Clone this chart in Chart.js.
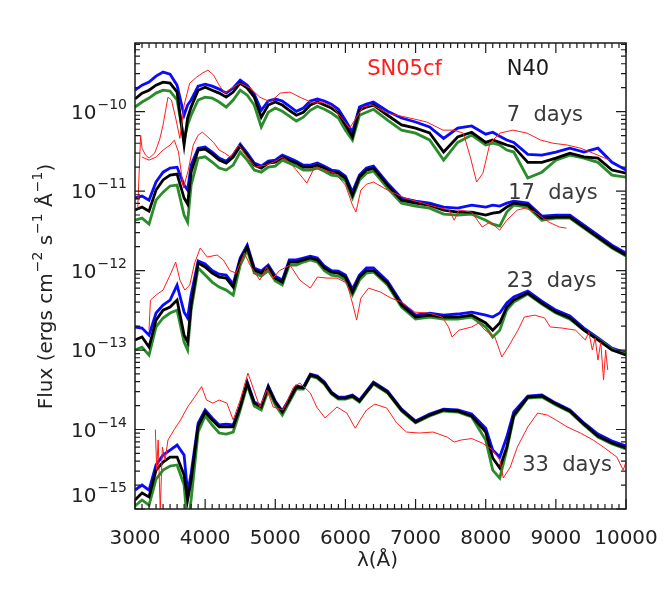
<!DOCTYPE html>
<html>
<head>
<meta charset="utf-8">
<script src="https://cdn.jsdelivr.net/npm/chart.js@4.4.1/dist/chart.umd.min.js"></script>
<style>
  html, body { margin: 0; padding: 0; background: #fff; }
  #wrap { width: 667px; height: 597px; }
</style>
</head>
<body>
<div id="wrap"><canvas id="grafico" width="667" height="597"></canvas></div>
<script>
// DATOS: longitud de onda (Angstrom) de los modelos N40
const ondaModelo = [3000,3100,3200,3300,3400,3500,3600,3700,3750,3800,3900,4000,4100,4200,4300,4400,4500,4600,4700,4800,4900,5000,5100,5200,5300,5400,5500,5600,5700,5800,5900,6000,6100,6200,6300,6400,6600,6800,7000,7200,7400,7600,7800,8000,8100,8200,8300,8400,8600,8800,9000,9200,9400,9600,9800,10000];

// 7 dias
const azul7 = [1.86e-10,2.15e-10,2.35e-10,2.8e-10,3.14e-10,2.96e-10,2.15e-10,9.0e-11,1.21e-10,1.4e-10,2.09e-10,2.22e-10,2.09e-10,1.92e-10,1.71e-10,1.98e-10,2.49e-10,2.15e-10,1.66e-10,1.04e-10,1.36e-10,1.44e-10,1.36e-10,1.17e-10,1.01e-10,1.11e-10,1.36e-10,1.44e-10,1.36e-10,1.24e-10,1.07e-10,7.8e-11,5.5e-11,1.14e-10,1.24e-10,1.32e-10,1.01e-10,8.3e-11,7.4e-11,6.4e-11,4.6e-11,6.2e-11,6.6e-11,5.2e-11,5.5e-11,4.9e-11,4.4e-11,4.1e-11,2.9e-11,2.84e-11,3.1e-11,3.47e-11,3.1e-11,3.47e-11,2.3e-11,1.84e-11];
const negro7 = [1.44e-10,1.71e-10,1.86e-10,2.15e-10,2.35e-10,2.28e-10,1.76e-10,3.8e-11,8.3e-11,1.14e-10,1.86e-10,2.03e-10,1.86e-10,1.71e-10,1.52e-10,1.76e-10,2.28e-10,1.98e-10,1.52e-10,8.5e-11,1.21e-10,1.32e-10,1.21e-10,1.04e-10,9.0e-11,9.8e-11,1.21e-10,1.32e-10,1.21e-10,1.11e-10,9.6e-11,6.8e-11,4.8e-11,1.04e-10,1.14e-10,1.21e-10,9.0e-11,6.8e-11,6.2e-11,5.4e-11,3.1e-11,4.8e-11,5.5e-11,4.1e-11,4.4e-11,4.1e-11,3.8e-11,3.6e-11,2.3e-11,2.3e-11,2.6e-11,3.0e-11,2.7e-11,2.6e-11,1.84e-11,1.68e-11];
const verde7 = [1.14e-10,1.32e-10,1.48e-10,1.71e-10,1.86e-10,1.81e-10,1.4e-10,4.4e-11,6.8e-11,9.0e-11,1.4e-10,1.52e-10,1.48e-10,1.32e-10,1.14e-10,1.4e-10,1.86e-10,1.61e-10,1.21e-10,6.4e-11,9.8e-11,1.11e-10,1.01e-10,8.8e-11,7.6e-11,8.5e-11,1.04e-10,1.17e-10,1.07e-10,9.6e-11,8.3e-11,5.85e-11,4.4e-11,9.0e-11,9.8e-11,1.07e-10,7.8e-11,5.85e-11,5.36e-11,4.4e-11,2.45e-11,4.1e-11,5.06e-11,3.8e-11,4.0e-11,3.8e-11,3.28e-11,3.1e-11,1.46e-11,1.73e-11,2.45e-11,2.84e-11,2.6e-11,2.3e-11,1.59e-11,1.5e-11];

// 17 dias
const azul17 = [8.17e-12,8.65e-12,7.7e-12,1.3e-11,1.73e-11,1.95e-11,2.0e-11,1.19e-11,1.03e-11,2.12e-11,3.47e-11,3.58e-11,3.1e-11,2.6e-11,2.38e-11,2.84e-11,3.9e-11,3.0e-11,2.25e-11,2.06e-11,2.38e-11,2.45e-11,2.84e-11,2.6e-11,2.38e-11,2.12e-11,2.12e-11,2.25e-11,2.06e-11,1.84e-11,1.78e-11,1.54e-11,9.7e-12,1.59e-11,1.95e-11,2.06e-11,1.26e-11,8.17e-12,7.48e-12,7.06e-12,6.3e-12,6.1e-12,6.66e-12,6.3e-12,6.66e-12,6.47e-12,7.06e-12,7.48e-12,7.06e-12,4.85e-12,4.99e-12,4.99e-12,3.73e-12,2.8e-12,2.09e-12,1.66e-12];
const negro17 = [5.77e-12,6.3e-12,5.6e-12,1.03e-11,1.38e-11,1.59e-11,1.64e-11,8.17e-12,6.86e-12,1.73e-11,3.28e-11,3.37e-11,2.92e-11,2.45e-11,2.25e-11,2.68e-11,3.68e-11,2.84e-11,2.12e-11,1.95e-11,2.25e-11,2.32e-11,2.68e-11,2.45e-11,2.25e-11,2.0e-11,2.0e-11,2.12e-11,1.95e-11,1.73e-11,1.68e-11,1.46e-11,8.9e-12,1.5e-11,1.84e-11,1.95e-11,1.19e-11,7.7e-12,7.06e-12,6.66e-12,5.77e-12,5.44e-12,5.44e-12,4.99e-12,5.29e-12,5.44e-12,6.3e-12,7.06e-12,6.66e-12,4.57e-12,4.7e-12,4.7e-12,3.53e-12,2.64e-12,1.98e-12,1.57e-12];
const verde17 = [4.3e-12,4.57e-12,3.84e-12,7.7e-12,9.7e-12,1.16e-11,1.19e-11,4.99e-12,4.07e-12,1.19e-11,2.6e-11,2.7e-11,2.32e-11,1.95e-11,1.84e-11,2.12e-11,3.1e-11,2.45e-11,1.84e-11,1.73e-11,2.0e-11,2.06e-11,2.45e-11,2.25e-11,2.06e-11,1.84e-11,1.84e-11,1.95e-11,1.78e-11,1.59e-11,1.54e-11,1.34e-11,8.17e-12,1.38e-11,1.68e-11,1.78e-11,1.09e-11,7.06e-12,6.47e-12,6.1e-12,5.13e-12,4.99e-12,5.13e-12,4.3e-12,3.84e-12,3.63e-12,5.44e-12,6.66e-12,6.3e-12,4.3e-12,4.57e-12,4.57e-12,3.42e-12,2.56e-12,1.92e-12,1.52e-12];

// 23 dias
const azul23 = [1.95e-13,1.89e-13,1.54e-13,2.92e-13,3.68e-13,4.25e-13,6.57e-13,3.0e-13,2.53e-13,4.92e-13,1.32e-12,1.21e-12,1.0e-12,9.0e-13,8.77e-13,6.76e-13,1.44e-12,2.09e-12,1.08e-12,9.85e-13,1.17e-12,8.52e-13,7.59e-13,1.36e-12,1.36e-12,1.44e-12,1.52e-12,1.44e-12,1.14e-12,1.0e-12,9.85e-13,8.77e-13,5.85e-13,8.77e-13,1.08e-12,1.08e-12,7.38e-13,3.9e-13,2.75e-13,2.92e-13,2.75e-13,2.84e-13,3.0e-13,2.75e-13,2.6e-13,2.92e-13,3.9e-13,4.64e-13,5.52e-13,4.13e-13,3.18e-13,2.68e-13,1.89e-13,1.42e-13,1.06e-13,9.2e-14];
const negro23 = [1.34e-13,1.46e-13,1.09e-13,2.38e-13,3.18e-13,3.47e-13,4.25e-13,1.54e-13,1.26e-13,3.68e-13,1.24e-12,1.11e-12,9.3e-13,8.28e-13,8.04e-13,6.2e-13,1.36e-12,1.98e-12,1.01e-12,9.3e-13,1.11e-12,8.04e-13,7.16e-13,1.28e-12,1.28e-12,1.36e-12,1.44e-12,1.36e-12,1.08e-12,9.57e-13,9.3e-13,8.28e-13,5.36e-13,8.28e-13,1.0e-12,1.0e-12,6.96e-13,3.68e-13,2.6e-13,2.75e-13,2.6e-13,2.6e-13,2.75e-13,2.19e-13,1.78e-13,2.19e-13,3.47e-13,4.25e-13,5.21e-13,3.9e-13,3.0e-13,2.53e-13,1.78e-13,1.34e-13,1.0e-13,8.65e-14];
const verde23 = [1.0e-13,1.09e-13,8.65e-14,1.95e-13,2.53e-13,2.92e-13,3.18e-13,1.26e-13,1.0e-13,3.18e-13,1.08e-12,8.77e-13,7.16e-13,6.2e-13,5.68e-13,4.92e-13,1.17e-12,1.81e-12,9.3e-13,8.52e-13,1.0e-12,7.38e-13,6.57e-13,1.17e-12,1.17e-12,1.28e-12,1.36e-12,1.28e-12,1.0e-12,8.77e-13,8.52e-13,7.59e-13,4.92e-13,7.59e-13,9.3e-13,9.57e-13,6.57e-13,3.47e-13,2.45e-13,2.6e-13,2.45e-13,2.45e-13,2.6e-13,1.95e-13,1.46e-13,1.78e-13,3.18e-13,4.01e-13,5.06e-13,3.79e-13,2.92e-13,2.45e-13,1.78e-13,1.38e-13,1.03e-13,8.9e-14];

// 33 dias
const azul33 = [1.73e-15,2.0e-15,1.73e-15,3.58e-15,4.77e-15,5.52e-15,6.38e-15,4.77e-15,1.59e-15,2.8e-15,1.2e-14,1.76e-14,1.4e-14,1.14e-14,1.17e-14,1.14e-14,1.98e-14,3.96e-14,2.22e-14,1.98e-14,3.53e-14,2.28e-14,1.71e-14,2.42e-14,3.53e-14,3.42e-14,4.99e-14,4.7e-14,3.96e-14,2.96e-14,2.56e-14,2.56e-14,2.72e-14,2.35e-14,3.05e-14,3.96e-14,3.05e-14,1.81e-14,1.28e-14,1.57e-14,1.81e-14,1.76e-14,1.57e-14,1.04e-14,5.52e-15,4.5e-15,8.04e-15,1.66e-14,2.64e-14,2.72e-14,2.15e-14,1.76e-14,1.21e-14,8.77e-15,7.16e-15,6.2e-15];
const negro33 = [1.3e-15,1.59e-15,1.42e-15,3.09e-15,3.9e-15,4.5e-15,4.5e-15,2.68e-15,1.3e-15,2.3e-15,1.1e-14,1.66e-14,1.32e-14,1.08e-14,1.08e-14,1.08e-14,1.92e-14,3.84e-14,2.15e-14,1.92e-14,3.42e-14,2.22e-14,1.66e-14,2.35e-14,3.42e-14,3.33e-14,4.85e-14,4.57e-14,3.84e-14,2.88e-14,2.49e-14,2.49e-14,2.64e-14,2.28e-14,2.96e-14,3.84e-14,2.96e-14,1.76e-14,1.24e-14,1.52e-14,1.76e-14,1.71e-14,1.48e-14,9.3e-15,4.38e-15,3.28e-15,6.0e-15,1.52e-14,2.56e-14,2.64e-14,2.09e-14,1.71e-14,1.17e-14,8.28e-15,6.76e-15,5.85e-15];
const verde33 = [1.09e-15,1.3e-15,1.12e-15,2.38e-15,3.09e-15,3.47e-15,3.58e-15,2.0e-15,6.0e-16,1.3e-15,9.3e-15,1.48e-14,1.14e-14,9.03e-15,8.77e-15,9.3e-15,1.76e-14,3.63e-14,1.98e-14,1.76e-14,3.14e-14,2.03e-14,1.52e-14,2.22e-14,3.23e-14,3.23e-14,4.7e-14,4.44e-14,3.73e-14,2.8e-14,2.42e-14,2.42e-14,2.56e-14,2.22e-14,2.88e-14,3.73e-14,2.88e-14,1.71e-14,1.21e-14,1.48e-14,1.71e-14,1.66e-14,1.44e-14,7.38e-15,3.09e-15,2.45e-15,5.52e-15,1.44e-14,2.49e-14,2.56e-14,2.03e-14,1.66e-14,1.14e-14,8.04e-15,6.57e-15,5.68e-15];

// SN05cf observada
const ondaSN7 = [3040,3080,3100,3150,3200,3280,3350,3400,3470,3520,3580,3640,3700,3780,3880,3960,4040,4120,4200,4280,4380,4500,4640,4780,4930,5070,5210,5350,5540,5680,5820,5970,6060,6160,6250,6380,6590,6920,7160,7390,7540,7680,7780,7870,7960,8060,8200,8390,8590,8780,8960,9160,9350,9530,9700,9770];
const flujoSN7 = [6.3e-12,5.06e-11,3.47e-11,2.84e-11,2.6e-11,3.0e-11,4.4e-11,6.8e-11,1.52e-10,1.4e-10,8.3e-11,4.6e-11,1.2e-10,2.28e-10,2.72e-10,3.05e-10,3.33e-10,2.88e-10,2.15e-10,1.71e-10,1.98e-10,2.28e-10,1.98e-10,1.52e-10,1.32e-10,1.71e-10,1.76e-10,1.52e-10,1.28e-10,1.32e-10,1.14e-10,7.8e-11,6.2e-11,8.5e-11,1.14e-10,1.21e-10,9.6e-11,8.3e-11,7.4e-11,5.85e-11,5.85e-11,5.36e-11,2.7e-11,1.3e-11,1.68e-11,4.0e-11,5.36e-11,5.85e-11,5.36e-11,4.4e-11,4.0e-11,3.8e-11,3.47e-11,3.0e-11,2.6e-11,2.45e-11];
const ondaSN17 = [3100,3200,3300,3400,3500,3560,3620,3690,3760,3830,3900,3960,4040,4120,4200,4280,4360,4480,4580,4720,4860,4980,5100,5200,5300,5450,5560,5700,5850,6000,6100,6150,6220,6300,6400,6600,6850,7100,7300,7480,7550,7620,7800,7950,8060,8200,8300,8450,8560,8700,8900,9050,9150];
const flujoSN17 = [2.68e-11,2.45e-11,2.68e-11,3.28e-11,3.79e-11,4.38e-11,3.1e-11,1.09e-11,1.84e-11,3.79e-11,5.06e-11,5.52e-11,4.78e-11,4.1e-11,3.28e-11,3.0e-11,2.68e-11,3.79e-11,2.84e-11,2.0e-11,2.12e-11,2.32e-11,2.68e-11,2.32e-11,1.84e-11,1.26e-11,2.0e-11,1.84e-11,1.68e-11,1.19e-11,6.66e-12,5.44e-12,1.03e-11,1.22e-11,1.3e-11,1.03e-11,8.17e-12,7.06e-12,6.3e-12,5.77e-12,4.3e-12,5.77e-12,5.44e-12,3.53e-12,4.07e-12,3.23e-12,4.3e-12,5.77e-12,6.1e-12,5.44e-12,4.07e-12,3.53e-12,3.42e-12];
const ondaSN23 = [3200,3220,3300,3400,3500,3580,3640,3710,3780,3850,3930,4030,4170,4260,4350,4440,4560,4640,4780,4880,4970,5060,5210,5350,5500,5600,5740,5880,6020,6100,6160,6220,6330,6500,6650,6800,6990,7190,7380,7470,7520,7620,7800,7900,7990,8130,8230,8320,8460,8550,8700,8840,8920,9090,9280,9420,9470,9520,9560,9600,9640,9680,9710,9740];
const flujoSN23 = [1.78e-13,4.25e-13,4.92e-13,5.68e-13,8.77e-13,1.28e-12,7.59e-13,5.68e-13,6.57e-13,1.24e-12,1.92e-12,1.48e-12,1.57e-12,1.36e-12,1.0e-12,9.3e-13,1.66e-12,1.17e-12,7.59e-13,1.11e-12,8.04e-13,1.0e-12,1.17e-12,7.59e-13,6.02e-13,8.28e-13,8.04e-13,8.04e-13,6.96e-13,3.9e-13,2.38e-13,4.5e-13,6.02e-13,5.36e-13,4.5e-13,4.01e-13,3.0e-13,2.92e-13,2.6e-13,1.95e-13,1.46e-13,1.78e-13,1.95e-13,2.19e-13,1.78e-13,1.46e-13,8.17e-14,1.09e-13,1.78e-13,2.6e-13,2.75e-13,2.53e-13,1.95e-13,1.89e-13,1.78e-13,1.34e-13,1.68e-13,1.0e-13,1.42e-13,7.48e-14,1.26e-13,4.19e-14,1.0e-13,5.6e-14];
const ondaSN33 = [3290,3310,3330,3360,3390,3430,3470,3560,3650,3750,3850,3950,4020,4110,4200,4310,4400,4500,4610,4680,4780,4880,4970,5110,5260,5350,5500,5590,5710,5880,6020,6140,6210,6300,6420,6590,6730,6870,7050,7250,7450,7550,7650,7800,7950,8100,8200,8250,8350,8450,8600,8740,8880,9000,9160,9350,9530,9680,9870,9960,10000];
const flujoSN33 = [1.0e-14,3.09e-15,7.38e-15,9.7e-16,6.0e-15,4.13e-15,7.38e-15,1.0e-14,1.32e-14,1.92e-14,2.56e-14,3.47e-14,2.35e-14,2.15e-14,2.35e-14,2.15e-14,1.32e-14,2.35e-14,5.13e-14,3.42e-14,1.92e-14,3.14e-14,1.92e-14,1.76e-14,3.42e-14,3.84e-14,2.88e-14,1.92e-14,1.4e-14,1.92e-14,1.61e-14,1.04e-14,1.32e-14,1.76e-14,2.09e-14,1.86e-14,1.21e-14,9.3e-15,9.03e-15,9.3e-15,8.04e-15,6.96e-15,7.38e-15,7.7e-15,6.76e-15,5.52e-15,4.13e-15,2.45e-15,3.37e-15,6.0e-15,1.08e-14,1.61e-14,1.52e-14,1.32e-14,1.08e-14,9.03e-15,7.38e-15,6.0e-15,4.5e-15,3.09e-15,3.9e-15];

// ejes
const ticksX = [3000,4000,5000,6000,7000,8000,9000,10000];
const exponentesY = [-10,-11,-12,-13,-14,-15];
const etiquetasEpoca = ["7  days", "17  days", "23  days", "33  days"];

const FUENTE = "'DejaVu Sans', sans-serif";
const ROJO = '#ff1c1c';

// FUNCIONES:
function puntos(ondas, flujos) {
    return ondas.map((x, i) => ({ x: x, y: flujos[i] }));
}

function modelo(flujos, color, orden) {
    return {
        data: puntos(ondaModelo, flujos),
        borderColor: color,
        borderWidth: 2.8,
        pointRadius: 0,
        tension: 0,
        order: orden
    };
}

function observado(ondas, flujos) {
    return {
        data: puntos(ondas, flujos),
        borderColor: ROJO,
        borderWidth: 1,
        pointRadius: 0,
        tension: 0,
        order: 0
    };
}

function textoConExponente(ctx, x, y, base, exp, tamBase, tamExp) {
    ctx.font = tamBase + "px " + FUENTE;
    const anchoBase = ctx.measureText(base).width;
    ctx.fillText(base, x, y);
    ctx.font = tamExp + "px " + FUENTE;
    ctx.fillText(exp, x + anchoBase + 1, y - tamBase * 0.42);
    return anchoBase + 1 + ctx.measureText(exp).width;
}

const marcoIDL = {
    id: 'marcoIDL',
    afterDatasetsDraw(chart) {
        const { ctx, chartArea: a, scales: { x, y } } = chart;
        ctx.save();

        // marco
        ctx.strokeStyle = '#1a1a1a';
        ctx.lineWidth = 1.5;
        ctx.strokeRect(a.left, a.top, a.right - a.left, a.bottom - a.top);

        // marcas hacia dentro
        ctx.lineWidth = 1.2;
        ctx.beginPath();
        for (let v = 3000; v <= 10000; v += 100) {
            const px = x.getPixelForValue(v);
            const largo = v % 1000 === 0 ? 10 : 5;
            ctx.moveTo(px, a.bottom); ctx.lineTo(px, a.bottom - largo);
            ctx.moveTo(px, a.top); ctx.lineTo(px, a.top + largo);
        }
        for (let e = -15; e <= -10; e++) {
            for (let m = 1; m <= 9; m++) {
                const v = m * Math.pow(10, e);
                if (v > y.max) continue;
                const py = y.getPixelForValue(v);
                const largo = m === 1 ? 10 : 5;
                ctx.moveTo(a.left, py); ctx.lineTo(a.left + largo, py);
                ctx.moveTo(a.right, py); ctx.lineTo(a.right - largo, py);
            }
        }
        ctx.stroke();

        // etiquetas del eje y
        ctx.fillStyle = '#222';
        ctx.textBaseline = 'middle';
        ctx.textAlign = 'left';
        exponentesY.forEach(e => {
            const py = Math.min(y.getPixelForValue(Math.pow(10, e)) + 2, a.bottom - 12);
            ctx.font = "14px " + FUENTE;
            const anchoExp = ctx.measureText("\u2212" + (-e)).width;
            ctx.font = "20px " + FUENTE;
            const anchoBase = ctx.measureText("10").width;
            textoConExponente(ctx, a.left - 8 - anchoExp - anchoBase - 1, py, "10", "\u2212" + (-e), 20, 14);
        });

        // titulo eje x
        ctx.textAlign = 'center';
        ctx.font = "20px " + FUENTE;
        ctx.fillText("\u03bb(\u00c5)", (a.left + a.right) / 2 - 3, 561);

        // titulo eje y
        ctx.save();
        ctx.translate(47, 286);
        ctx.rotate(-Math.PI / 2);
        ctx.textAlign = 'left';
        const partes = [["Flux (ergs cm", "\u22122"], [" s", "\u22121"], [" \u00c5", "\u22121"], [")", ""]];
        let total = 0;
        partes.forEach(p => {
            ctx.font = "20px " + FUENTE;
            total += ctx.measureText(p[0]).width + 1;
            ctx.font = "14px " + FUENTE;
            total += ctx.measureText(p[1]).width;
        });
        let cx = -total / 2;
        partes.forEach(p => {
            cx += textoConExponente(ctx, cx, 0, p[0], p[1], 20, 14);
        });
        ctx.restore();

        // rotulos
        ctx.textAlign = 'left';
        ctx.font = "21px " + FUENTE;
        ctx.fillStyle = ROJO;
        ctx.fillText("SN05cf", x.getPixelForValue(6310), y.getPixelForValue(3.4e-10));
        ctx.fillStyle = '#1a1a1a';
        ctx.fillText("N40", x.getPixelForValue(8300), y.getPixelForValue(3.4e-10));
        ctx.fillStyle = '#3a3a3a';
        ctx.fillText(etiquetasEpoca[0], x.getPixelForValue(8300), y.getPixelForValue(9.0e-11));
        ctx.fillText(etiquetasEpoca[1], x.getPixelForValue(8320), y.getPixelForValue(9.2e-12));
        ctx.fillText(etiquetasEpoca[2], x.getPixelForValue(8300), y.getPixelForValue(7.2e-13));
        ctx.fillText(etiquetasEpoca[3], x.getPixelForValue(8520), y.getPixelForValue(3.5e-15));

        ctx.restore();
    }
};

const AZUL = '#0a0aff', VERDE = '#2a8c2a', NEGRO = '#000000';

new Chart(document.getElementById('grafico').getContext('2d'), {
    type: 'line',
    data: {
        datasets: [
            observado(ondaSN7, flujoSN7),
            observado(ondaSN17, flujoSN17),
            observado(ondaSN23, flujoSN23),
            observado(ondaSN33, flujoSN33),
            modelo(negro7, NEGRO, 1), modelo(negro17, NEGRO, 1), modelo(negro23, NEGRO, 1), modelo(negro33, NEGRO, 1),
            modelo(verde7, VERDE, 2), modelo(verde17, VERDE, 2), modelo(verde23, VERDE, 2), modelo(verde33, VERDE, 2),
            modelo(azul7, AZUL, 3), modelo(azul17, AZUL, 3), modelo(azul23, AZUL, 3), modelo(azul33, AZUL, 3)
        ]
    },
    options: {
        responsive: false,
        animation: false,
        layout: { padding: { top: 43, right: 41, left: 0, bottom: 0 } },
        plugins: { legend: { display: false }, tooltip: { enabled: false } },
        scales: {
            x: {
                type: 'linear',
                min: 3000,
                max: 10000,
                afterFit: function(scale) {
                    scale.height = 88;
                    scale.paddingLeft = 0;
                    scale.paddingRight = 0;
                },
                afterBuildTicks: function(scale) { scale.ticks = ticksX.map(v => ({ value: v })); },
                grid: { display: false, drawTicks: false },
                border: { display: false },
                ticks: {
                    autoSkip: false,
                    maxRotation: 0,
                    padding: 18,
                    color: '#222',
                    font: { family: FUENTE, size: 20 },
                    callback: function(v) { return String(v); }
                }
            },
            y: {
                type: 'logarithmic',
                min: 1e-15,
                max: 7.3e-10,
                afterFit: function(scale) {
                    scale.width = 135;
                    scale.paddingTop = 0;
                    scale.paddingBottom = 0;
                },
                grid: { display: false, drawTicks: false },
                border: { display: false },
                ticks: { display: false }
            }
        }
    },
    plugins: [marcoIDL]
});
</script>
</body>
</html>
